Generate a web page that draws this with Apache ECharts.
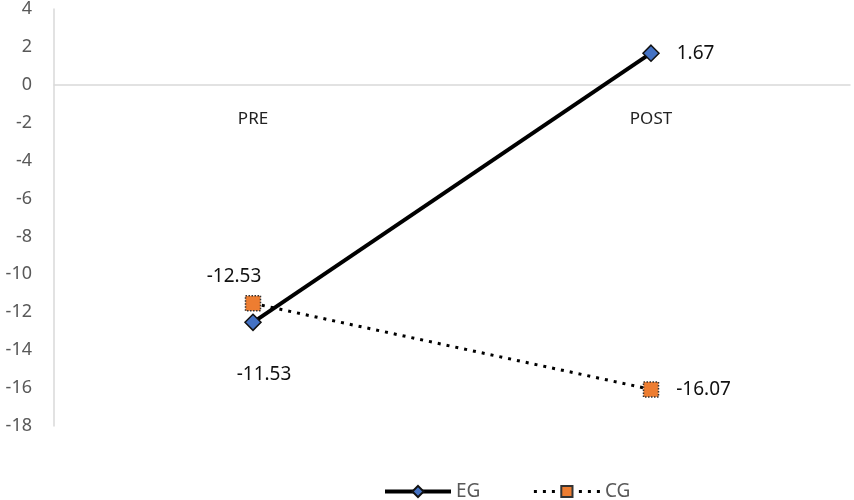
<!DOCTYPE html>
<html>
<head>
<meta charset="utf-8">
<script src="https://cdn.jsdelivr.net/npm/echarts@6/dist/echarts.min.js"></script>
<style>
  html, body { margin: 0; padding: 0; background: #fff; }
  #chart { width: 854px; height: 500px; }
</style>
</head>
<body>
<div id="chart"></div>
<script>
const categories = ['PRE', 'POST'];
const egValues = [-12.53, 1.67];
const cgValues = [-11.53, -16.07];

const font = '"Noto Sans", "Open Sans", sans-serif';
const chart = echarts.init(document.getElementById('chart'));

// label placement per point (Excel-style manual offsets)
const egLabelPos = [
  { position: 'top', offset: [-19, -22] },
  { position: 'right', offset: [12, 0] }
];
const cgLabelPos = [
  { position: 'bottom', offset: [11, 48] },
  { position: 'right', offset: [12, 0] }
];

function withLabels(values, pos) {
  return values.map((v, i) => ({
    value: v,
    label: { show: true, position: pos[i].position, offset: pos[i].offset }
  }));
}

const labelStyle = { color: '#111', fontSize: 19, fontFamily: font };

chart.setOption({
  animation: false,
  grid: { left: 54, right: 4, top: 8, bottom: 74 },
  legend: {
    bottom: -6,
    left: 378,
    itemWidth: 66,
    itemHeight: 14,
    itemGap: 52,
    textStyle: { color: '#595959', fontSize: 19, fontFamily: font },
    data: [
      { name: 'EG', lineStyle: { width: 4 } },
      { name: 'CG', lineStyle: { width: 3 } }
    ]
  },
  xAxis: {
    type: 'category',
    data: categories,
    axisLine: { onZero: true, lineStyle: { color: '#d9d9d9', width: 1.5 } },
    axisTick: { show: false },
    // labels sit just under the zero line, as in the source chart
    axisLabel: { color: '#222', fontSize: 17, fontFamily: font, margin: -315 }
  },
  yAxis: {
    type: 'value',
    min: -18,
    max: 4,
    interval: 2,
    axisLine: { show: true, lineStyle: { color: '#d9d9d9', width: 1.5 } },
    axisTick: { show: false },
    splitLine: { show: false },
    axisLabel: { color: '#595959', fontSize: 18, fontFamily: font, margin: 22 }
  },
  series: [
    {
      name: 'EG',
      type: 'line',
      data: withLabels(egValues, egLabelPos),
      symbol: 'diamond',
      symbolSize: 16,
      lineStyle: { color: '#000', width: 4 },
      itemStyle: { color: '#4472C4', borderColor: '#111', borderWidth: 1.5 },
      label: labelStyle,
      z: 3
    },
    {
      name: 'CG',
      type: 'line',
      data: withLabels(cgValues, cgLabelPos),
      symbol: 'rect',
      symbolSize: 15,
      lineStyle: { color: '#000', width: 3, type: [3, 6] },
      itemStyle: { color: '#ED7D31', borderColor: '#333', borderWidth: 1.5, borderType: 'dotted' },
      label: labelStyle,
      z: 2
    }
  ]
});
</script>
</body>
</html>
